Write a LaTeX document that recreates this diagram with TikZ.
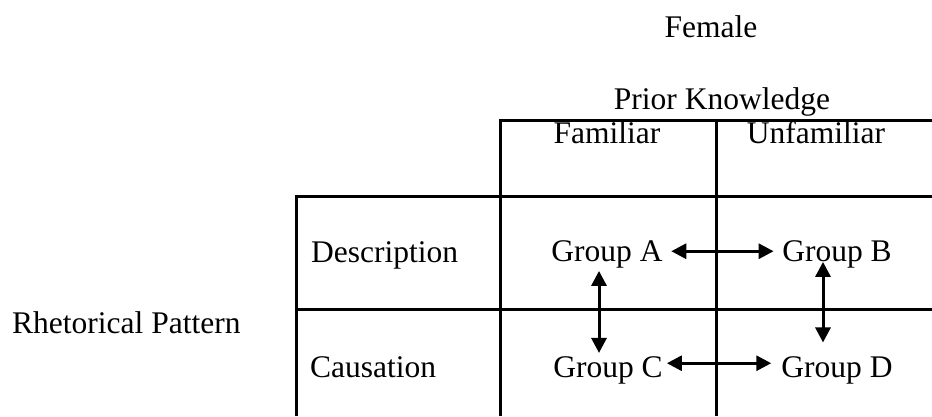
\documentclass[tikz,border=0pt]{standalone}
\usepackage{fontspec}
\setmainfont{Liberation Serif}
\usetikzlibrary{arrows.meta}
\begin{document}
\begin{tikzpicture}[x=1pt,y=-1pt,
  lbl/.style={anchor=base,inner sep=0pt,font=\fontsize{31.5}{38}\selectfont},
  grp/.style={anchor=base,inner xsep=8.5pt,inner ysep=3pt,font=\fontsize{31.5}{38}\selectfont},
  rule/.style={line width=3pt},
  dbl/.style={line width=3pt,{Triangle[length=15pt,width=15pt]}-{Triangle[length=15pt,width=15pt]}}]
\useasboundingbox (0,0) rectangle (932,416);
% table lines
\draw[rule] (500,416) -- (500,120) -- (932,120);
\draw[rule] (716,120) -- (716,416);
\draw[rule] (296,416) -- (296,196) -- (932,196);
\draw[rule] (296,309) -- (932,309);
% labels
\node[lbl] (female) at (711,37) {Female};
\node[lbl] (prior) at (722,109) {Prior Knowledge};
\node[lbl] (fam) at (607,143) {Familiar};
\node[lbl] (unfam) at (816,143) {Unfamiliar};
\node[lbl,anchor=base west] (desc) at (311,262) {Description};
\node[lbl,anchor=base west] (caus) at (310,377) {Causation};
\node[lbl,anchor=base west] (rhet) at (12,333) {Rhetorical Pattern};
% groups
\node[grp] (A) at (607,261) {Group A};
\node[grp] (B) at (837,261) {Group B};
\node[grp] (C) at (608,377) {Group C};
\node[grp] (D) at (837,377) {Group D};
% arrows
\draw[dbl] ([shift={(0,-2.7)}]A.east) -- ([shift={(0,-2.7)}]B.west);
\draw[dbl] ([shift={(-4.5,-6.7)}]C.east) -- ([shift={(-1.5,-6.7)}]D.west);
\draw[dbl] ([shift={(-8,0)}]A.south) -- ([shift={(-9,0)}]C.north);
\draw[dbl] ([shift={(-14,-9)}]B.south) -- ([shift={(-14,-10.5)}]D.north);
\end{tikzpicture}
\end{document}
